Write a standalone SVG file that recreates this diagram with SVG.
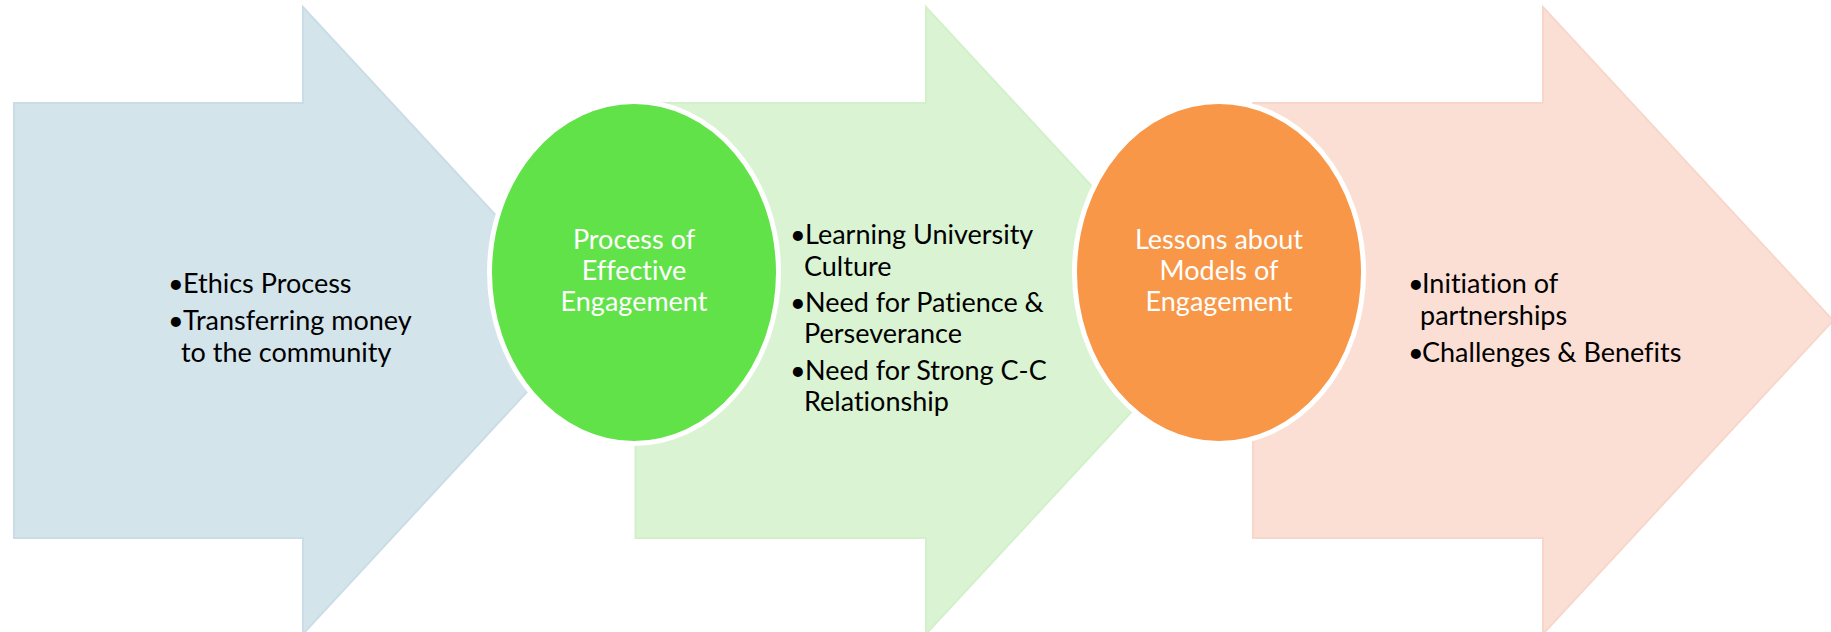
<svg xmlns="http://www.w3.org/2000/svg" width="1831" height="632" viewBox="0 0 1831 632">
  <style>
    .t { font-family: Lato, "Open Sans", "Liberation Sans", sans-serif; font-size: 27px; fill: #000; font-variant-ligatures: none; }
    .w { font-family: Lato, "Open Sans", "Liberation Sans", sans-serif; font-size: 27px; fill: #fff; text-anchor: middle; font-variant-ligatures: none; }
    .a1 { fill: #D3E4EB; stroke: #CADDE7; stroke-width: 2; }
    .a2 { fill: #DAF4D3; stroke: #D2F0CA; stroke-width: 2; }
    .a3 { fill: #FBDFD5; stroke: #F8D7CB; stroke-width: 2; }
    .e { stroke: #fff; stroke-width: 5; }
  </style>
  <rect width="1831" height="632" fill="#fff"/>
  <g id="arrow1">
    <path class="a1" d="M14,103 H303 V7 L593,320.5 L303,634 V538 H14 Z"/>
  </g>
  <g id="arrow2">
    <path class="a2" d="M635.5,103 H926 V7 L1216,320.5 L926,634 V538 H635.5 Z"/>
  </g>
  <g id="arrow3">
    <path class="a3" d="M1253,103 H1543 V7 L1833,320.5 L1543,634 V538 H1253 Z"/>
  </g>
  <g id="ellipse1">
    <ellipse class="e" cx="634" cy="272.5" rx="144.5" ry="171" fill="#62E249"/>
    <text class="w" x="634" y="249">Process of</text>
    <text class="w" x="634" y="280">Effective</text>
    <text class="w" x="634" y="311">Engagement</text>
  </g>
  <g id="ellipse2">
    <ellipse class="e" cx="1219" cy="272.5" rx="144.5" ry="171" fill="#F79747"/>
    <text class="w" x="1219" y="249">Lessons about</text>
    <text class="w" x="1219" y="280">Models of</text>
    <text class="w" x="1219" y="311">Engagement</text>
  </g>
  <g id="text1">
    <text class="t" x="168" y="293">•</text><text class="t" x="183" y="293">Ethics Process</text>
    <text class="t" x="168" y="330">•</text><text class="t" x="183" y="330">Transferring money</text>
    <text class="t" x="181" y="362">to the community</text>
  </g>
  <g id="text2">
    <text class="t" x="790" y="244">•</text><text class="t" x="805" y="244">Learning University</text>
    <text class="t" x="804" y="276">Culture</text>
    <text class="t" x="790" y="312">•</text><text class="t" x="805" y="312">Need for Patience &amp;</text>
    <text class="t" x="804" y="343">Perseverance</text>
    <text class="t" x="790" y="380">•</text><text class="t" x="805" y="380">Need for Strong C-C</text>
    <text class="t" x="804" y="411">Relationship</text>
  </g>
  <g id="text3">
    <text class="t" x="1408" y="293">•</text><text class="t" x="1422" y="293">Initiation of</text>
    <text class="t" x="1420" y="325">partnerships</text>
    <text class="t" x="1408" y="362">•</text><text class="t" x="1422" y="362">Challenges &amp; Benefits</text>
  </g>
</svg>
